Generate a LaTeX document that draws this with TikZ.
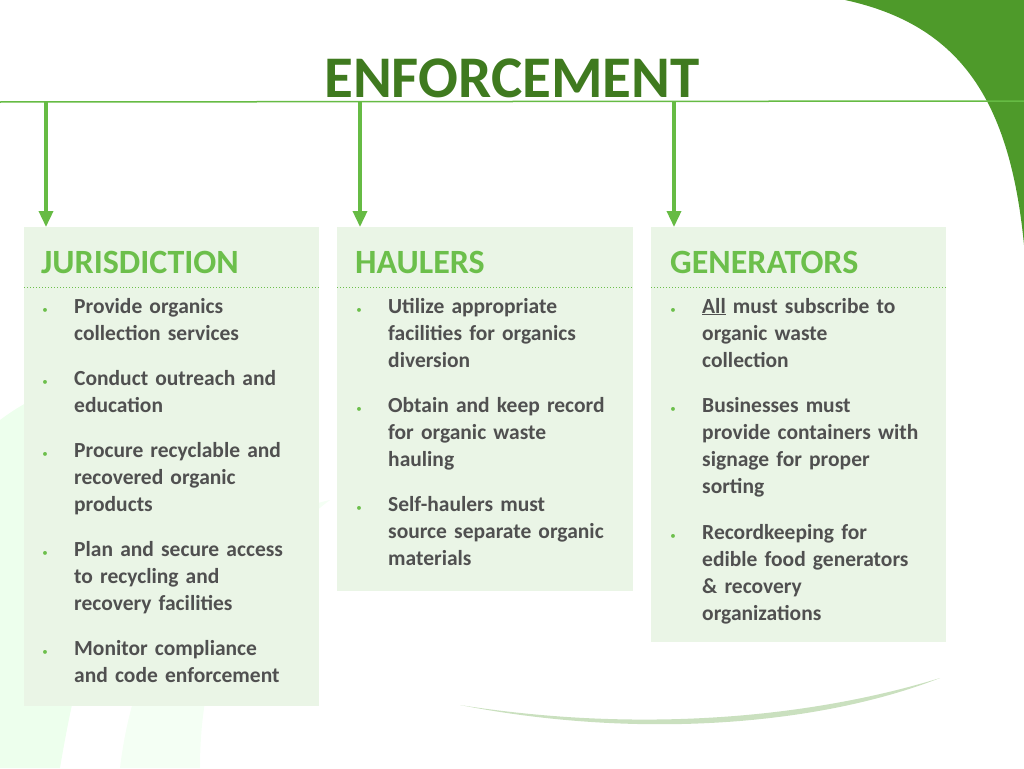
\documentclass[tikz,border=0pt]{standalone}
\usepackage{fontspec}
\setmainfont{Carlito}
\usetikzlibrary{arrows.meta}
\definecolor{dkg}{HTML}{3F7A1F}
\definecolor{arrg}{HTML}{66BB44}
\definecolor{hdg}{HTML}{6CBF4B}
\definecolor{boxf}{HTML}{EAF5E6}
\definecolor{swg}{HTML}{4E9A2A}
\definecolor{txt}{HTML}{505050}
\begin{document}
\begin{tikzpicture}[x=1pt,y=-1pt,
  box/.style={fill=boxf,draw=none},
  hdr/.style={anchor=base west,text=hdg,font=\fontsize{34}{38}\selectfont\bfseries,inner sep=0},
  itm/.style={anchor=base west,text=txt,text width=245pt,align=left,inner sep=0,font=\fontsize{21.5}{27}\selectfont\bfseries},
  bul/.style={anchor=base,text=hdg,font=\fontsize{11}{11}\selectfont,inner sep=0},
  arr/.style={draw=arrg,line width=3.5pt,-{Triangle[length=16pt,width=14pt]}}]
\useasboundingbox (0,0) rectangle (1024,768);
% background decorations
\fill[green!20!white,opacity=0.35] (0,420) .. controls (120,330) and (250,400) .. (300,420) .. controls (200,420) and (110,470) .. (60,768) -- (0,768) -- cycle;
\fill[green!15!white,opacity=0.3] (120,768) .. controls (140,600) and (240,520) .. (330,500) .. controls (250,560) and (200,640) .. (200,768) -- cycle;
\fill[swg!60!white,opacity=0.5] (460,705) .. controls (650,735) and (820,715) .. (940,678) .. controls (820,725) and (640,740) .. (460,705) -- cycle;
\fill[swg] (845,0) .. controls (960,25) and (1010,100) .. (1024,245) -- (1024,0) -- cycle;
% title
\node[anchor=base,text=dkg,font=\fontsize{59}{64}\selectfont\bfseries,inner sep=0] (title) at (512,97) {ENFORCEMENT};
\draw[arrg,line width=1.5pt] (0,102) -- (1024,101);
\coordinate (a1) at (46,102); \coordinate (a2) at (360,102); \coordinate (a3) at (674,102);
% boxes
\node[box,anchor=north west,minimum width=295pt,minimum height=479pt] (bj) at (24,227) {};
\node[box,anchor=north west,minimum width=296pt,minimum height=364pt] (bh) at (337,227) {};
\node[box,anchor=north west,minimum width=295pt,minimum height=415pt] (bg) at (651,227) {};
\draw[arr] (a1) -- (a1 |- bj.north);
\draw[arr] (a2) -- (a2 |- bh.north);
\draw[arr] (a3) -- (a3 |- bg.north);
\foreach \b in {bj,bh,bg}{\draw[hdg,line width=1pt,dotted] (\b.west |- 0,287) -- (\b.east |- 0,287);}
\node[hdr] (hj) at (41,273) {JURISDICTION};
\node[hdr] (hh) at (355,273) {HAULERS};
\node[hdr] (hg) at (670,273) {GENERATORS};
% jurisdiction
\foreach \y [count=\i] in {313,385,457,556,655}{\node[bul] (bj\i) at (45,\y) {•};}
\node[itm] (j1) at (74,313) {Provide organics\\collection services};
\node[itm] (j2) at (74,385) {Conduct outreach and\\education};
\node[itm] (j3) at (74,457) {Procure recyclable and\\recovered organic\\products};
\node[itm] (j4) at (74,556) {Plan and secure access\\to recycling and\\recovery facilities};
\node[itm] (j5) at (74,655) {Monitor compliance\\and code enforcement};
% haulers
\foreach \y [count=\i] in {313,412,511}{\node[bul] (bh\i) at (359,\y) {•};}
\node[itm] (h1) at (388,313) {Utilize appropriate\\facilities for organics\\diversion};
\node[itm] (h2) at (388,412) {Obtain and keep record\\for organic waste\\hauling};
\node[itm] (h3) at (388,511) {Self-haulers must\\source separate organic\\materials};
% generators
\foreach \y [count=\i] in {313,412,539}{\node[bul] (bg\i) at (673,\y) {•};}
\node[itm] (g1) at (702,313) {\underline{All} must subscribe to\\organic waste\\collection};
\node[itm] (g2) at (702,412) {Businesses must\\provide containers with\\signage for proper\\sorting};
\node[itm] (g3) at (702,539) {Recordkeeping for\\edible food generators\\\& recovery\\organizations};
\end{tikzpicture}
\end{document}
